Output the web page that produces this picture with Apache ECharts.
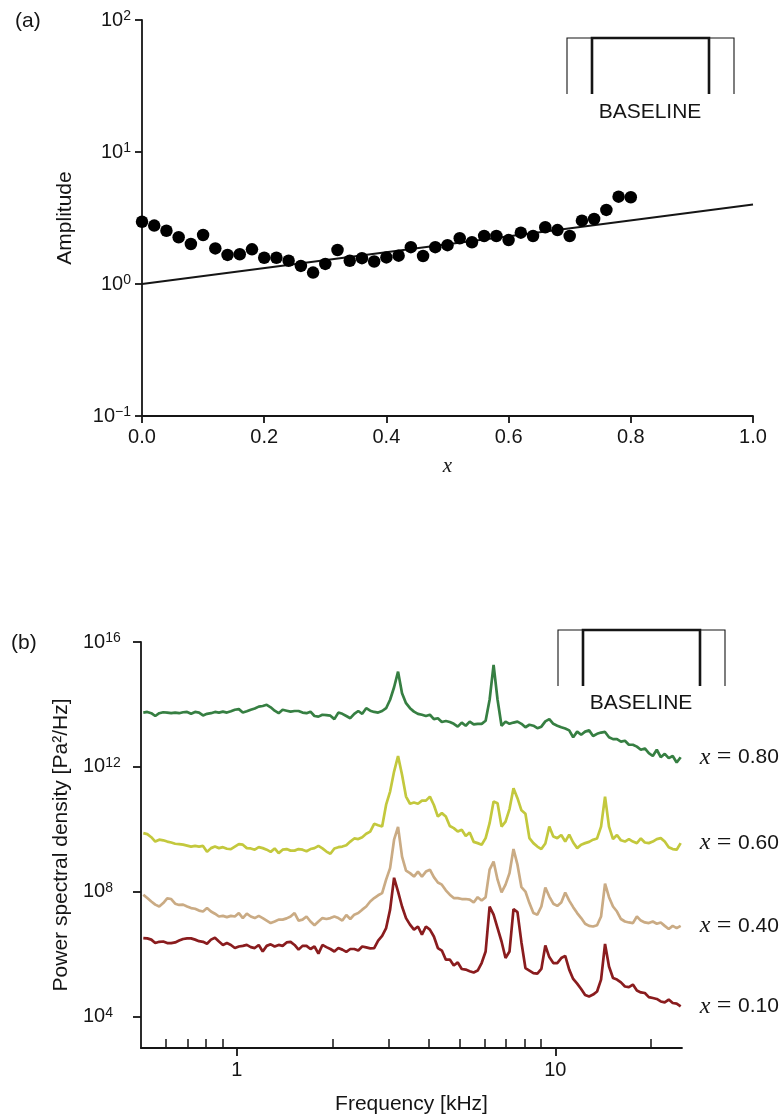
<!DOCTYPE html>
<html>
<head>
<meta charset="utf-8">
<script src="https://cdn.jsdelivr.net/npm/echarts@6/dist/echarts.min.js"></script>
<style>
html,body{margin:0;padding:0;background:#fff;}
#chart{width:784px;height:1117px;}
</style>
</head>
<body>
<div id="chart"></div>
<script>
// ---------- Panel (a): amplitude vs x ----------
const ampX = [0.00,0.02,0.04,0.06,0.08,0.10,0.12,0.14,0.16,0.18,0.20,0.22,0.24,0.26,0.28,0.30,0.32,0.34,0.36,0.38,0.40,
              0.42,0.44,0.46,0.48,0.50,0.52,0.54,0.56,0.58,0.60,0.62,0.64,0.66,0.68,0.70,0.72,0.74,0.76,0.78,0.80];
const ampY = [2.96,2.77,2.53,2.26,2.01,2.35,1.86,1.66,1.68,1.83,1.58,1.58,1.50,1.37,1.22,1.42,1.81,1.50,1.57,1.48,1.59,
              1.64,1.90,1.63,1.90,1.97,2.22,2.07,2.31,2.31,2.15,2.45,2.31,2.69,2.56,2.31,3.02,3.11,3.64,4.59,4.54];
const fitX = [0.0, 1.0];
const fitY = [1.0, 4.0];
const ampYTicks = [0.1, 1, 10, 100];

// ---------- Panel (b): power spectral density ----------
const freqKHz = [0.5084,0.5233,0.5386,0.5543,0.5705,0.5872,0.6043,0.6220,0.6401,0.6588,0.6780,0.6978,0.7182,0.7392,0.7608,0.7830,0.8059,0.8294,0.8536,0.8786,0.9042,0.9306,0.9578,0.9857,
  1.0145,1.0441,1.0746,1.1059,1.1382,1.1715,1.2057,1.2409,1.2771,1.3144,1.3528,1.3923,1.4330,1.4748,1.5179,1.5622,1.6078,1.6548,1.7031,1.7528,1.8040,1.8567,1.9109,1.9667,
  2.0241,2.0833,2.1441,2.2067,2.2711,2.3375,2.4057,2.4760,2.5483,2.6227,2.6993,2.7781,2.8592,2.9427,3.0286,3.1171,3.2081,3.3018,3.3982,3.4974,3.5995,3.7046,3.8128,3.9241,
  4.0387,4.1566,4.2780,4.4029,4.5315,4.6638,4.8000,4.9402,5.0844,5.2329,5.3857,5.5430,5.7048,5.8714,6.0429,6.2193,6.4009,6.5878,6.7802,6.9782,7.1820,7.3917,7.6075,7.8297,
  8.0583,8.2936,8.5358,8.7850,9.0416,9.3056,9.5773,9.8571,10.145,10.441,10.746,11.059,11.382,11.715,12.057,12.409,12.771,13.144,13.528,13.923,14.330,14.748,15.179,15.622,
  16.078,16.548,17.031,17.528,18.040,18.567,19.109,19.667,20.241,20.833,21.441,22.067,22.711,23.375,24.057,24.760];

// log10 of PSD [Pa^2/Hz]
const psdLog_x080 = [13.74,13.76,13.72,13.63,13.72,13.75,13.74,13.72,13.74,13.72,13.75,13.76,13.70,13.76,13.74,13.65,13.70,13.72,13.76,13.74,13.77,13.74,13.78,13.83,13.85,13.74,13.78,13.83,13.87,13.93,13.95,13.99,13.91,13.80,13.72,
  13.83,13.80,13.77,13.79,13.79,13.74,13.72,13.77,13.63,13.61,13.67,13.66,13.64,13.53,13.74,13.70,13.63,13.56,13.70,13.79,13.70,13.88,13.80,13.76,13.74,13.79,13.88,14.15,14.55,15.05,14.36,14.04,13.88,13.77,
  13.70,13.67,13.63,13.67,13.53,13.56,13.44,13.47,13.44,13.38,13.29,13.42,13.32,13.45,13.36,13.38,13.38,13.48,14.15,15.27,14.15,13.32,13.45,13.38,13.42,13.45,13.38,13.27,13.35,13.32,13.24,13.29,13.46,
  13.53,13.38,13.32,13.27,13.23,13.17,12.95,13.13,13.03,13.13,13.17,12.99,13.06,13.10,13.12,12.95,12.89,12.89,12.81,12.84,12.71,12.71,12.65,12.55,12.59,12.44,12.35,12.55,12.31,12.42,12.28,12.35,12.14,12.31];
const psdLog_x060 = [9.88,9.85,9.75,9.61,9.67,9.65,9.61,9.58,9.54,9.53,9.51,9.48,9.45,9.47,9.45,9.47,9.28,9.40,9.45,9.40,9.43,9.38,9.37,9.45,9.53,9.51,9.40,9.39,9.35,9.43,9.40,9.35,9.28,9.39,9.24,
  9.35,9.37,9.32,9.32,9.37,9.35,9.30,9.37,9.40,9.47,9.39,9.29,9.22,9.39,9.43,9.45,9.49,9.61,9.71,9.69,9.75,9.86,9.93,10.18,10.13,10.09,10.79,11.21,11.85,12.35,11.75,11.05,10.82,10.86,
  10.82,10.92,10.92,11.05,10.78,10.41,10.52,10.41,10.11,10.04,9.93,9.99,9.79,9.90,9.60,9.56,9.51,9.72,10.20,10.89,10.84,10.09,10.25,10.65,11.32,11.00,10.61,10.50,9.72,9.56,9.45,9.37,9.55,
  10.09,9.77,9.72,9.82,9.61,9.83,9.58,9.40,9.51,9.56,9.60,9.67,9.71,10.09,11.05,10.09,9.69,9.82,9.65,9.61,9.69,9.61,9.56,9.71,9.58,9.56,9.61,9.69,9.72,9.61,9.43,9.37,9.35,9.56];
const psdLog_x040 = [7.91,7.80,7.69,7.59,7.53,7.64,7.79,7.77,7.62,7.58,7.59,7.53,7.48,7.46,7.40,7.37,7.48,7.37,7.30,7.21,7.23,7.19,7.23,7.21,7.32,7.16,7.30,7.21,7.16,7.23,7.16,7.08,7.00,7.05,7.11,
  7.11,7.15,7.21,7.32,7.08,7.11,7.21,7.05,6.93,7.05,7.16,7.13,7.16,7.21,7.16,7.08,7.26,7.13,7.27,7.32,7.43,7.53,7.69,7.80,7.89,7.96,8.39,8.76,9.67,10.08,9.13,8.68,8.60,8.49,
  8.65,8.49,8.65,8.71,8.47,8.30,8.23,8.05,7.91,7.80,7.80,7.77,7.77,7.75,7.66,7.83,7.72,7.83,8.71,8.97,8.39,7.98,8.23,8.60,9.37,8.87,8.15,8.01,7.64,7.32,7.27,7.53,8.14,
  7.85,7.62,7.55,7.66,7.98,7.72,7.51,7.32,7.16,6.98,6.91,6.89,6.93,7.21,8.26,7.83,7.53,7.37,7.13,7.05,7.02,7.00,7.21,7.08,7.02,7.00,7.05,6.98,7.02,6.91,6.81,6.91,6.84,6.91];
const psdLog_x010 = [6.52,6.51,6.47,6.36,6.40,6.41,6.36,6.36,6.38,6.44,6.49,6.51,6.51,6.47,6.42,6.40,6.34,6.47,6.53,6.41,6.30,6.36,6.30,6.20,6.25,6.27,6.30,6.23,6.20,6.30,6.09,6.27,6.32,6.25,6.30,
  6.27,6.38,6.40,6.30,6.15,6.27,6.27,6.17,6.25,6.02,6.30,6.23,6.17,6.09,6.20,6.15,6.08,6.17,6.17,6.12,6.25,6.22,6.19,6.20,6.44,6.59,6.84,7.43,8.45,8.01,7.53,7.16,6.95,6.79,
  6.89,6.63,6.89,6.79,6.57,6.20,6.12,5.83,5.83,5.64,5.74,5.53,5.51,5.46,5.42,5.48,5.72,6.09,7.53,7.27,6.84,6.41,5.88,6.09,7.45,7.35,6.38,5.56,5.48,5.40,5.38,5.53,6.28,
  5.91,5.72,5.72,5.88,5.95,5.51,5.21,5.06,4.89,4.70,4.65,4.71,4.81,5.19,6.33,5.61,5.24,5.19,5.10,4.97,4.95,5.03,4.84,4.78,4.76,4.63,4.60,4.57,4.49,4.46,4.55,4.44,4.42,4.33];

const seriesLabels = ['0.80', '0.60', '0.40', '0.10'];
const seriesColors = ['#367f42', '#c3c83d', '#caab84', '#8a1c1e'];
const seriesLogs = [psdLog_x080, psdLog_x060, psdLog_x040, psdLog_x010];
const freqMajorTicks = [1, 10];
const freqMinorTicks = [0.6, 0.7, 0.8, 0.9, 2, 3, 4, 5, 6, 7, 8, 9, 20];
const psdYTicks = [1e4, 1e8, 1e12, 1e16];

// ---------- chart ----------
const SANS = '"Liberation Sans", Arial, Helvetica, sans-serif';
const SERIF = '"Liberation Serif", "DejaVu Serif", serif';
const INK = '#151515';
const axisLine = { show: true, onZero: false, lineStyle: { color: INK, width: 1.8 } };

function powLabel(v) {
  const e = Math.round(Math.log10(v));
  return '{b|10}{s|' + (e < 0 ? '\u2212' + (-e) : e) + '}';
}
const powRich = {
  b: { fontSize: 20, lineHeight: 22, fontFamily: SANS, color: INK },
  s: { fontSize: 14, lineHeight: 14, fontFamily: SANS, color: INK, verticalAlign: 'top' }
};

const psdSeries = seriesLogs.map((arr, i) => ({
  type: 'line',
  xAxisIndex: 1,
  yAxisIndex: 1,
  data: freqKHz.map((f, j) => [f, Math.pow(10, arr[j])]),
  showSymbol: false,
  symbol: 'none',
  lineStyle: { color: seriesColors[i], width: 2.7 },
  z: 3 + i,
  endLabel: {
    show: true,
    distance: 19,
    formatter: '{m|x}{e| = }{n|' + seriesLabels[i] + '}',
    rich: {
      m: { fontFamily: SERIF, fontStyle: 'italic', fontSize: 24, color: INK },
      e: { fontFamily: SERIF, fontSize: 26, color: INK },
      n: { fontFamily: SANS, fontSize: 21, color: INK }
    }
  }
}));

const option = {
  animation: false,
  backgroundColor: '#ffffff',
  grid: [
    { left: 142, top: 20, width: 611, height: 396 },
    { left: 141, top: 642, width: 541, height: 406 }
  ],
  xAxis: [
    {
      gridIndex: 0, type: 'value', min: 0, max: 1, interval: 0.2,
      axisLine: axisLine,
      axisTick: { length: 7, lineStyle: { color: INK, width: 1.8 } },
      splitLine: { show: false },
      axisLabel: { formatter: v => v.toFixed(1), fontSize: 20, fontFamily: SANS, color: INK, margin: 11 },
      name: 'x', nameLocation: 'middle', nameGap: 40,
      nameTextStyle: { fontFamily: SERIF, fontStyle: 'italic', fontSize: 21, color: INK }
    },
    {
      gridIndex: 1, type: 'log', logBase: 10, min: 0.5, max: 25, position: 'bottom',
      axisLine: axisLine,
      axisTick: { customValues: freqMajorTicks, length: 8, lineStyle: { color: INK, width: 1.8 } },
      splitLine: { show: false },
      minorTick: { show: false },
      axisLabel: { customValues: freqMajorTicks, formatter: v => String(Math.round(v)), fontSize: 20, fontFamily: SANS, color: INK, margin: 12 },
      name: 'Frequency [kHz]', nameLocation: 'middle', nameGap: 46,
      nameTextStyle: { fontFamily: SANS, fontSize: 21, color: INK }
    },
    {
      gridIndex: 1, type: 'log', logBase: 10, min: 0.5, max: 25, position: 'bottom',
      axisLine: { show: false },
      axisTick: { customValues: freqMinorTicks, inside: true, length: 9, lineStyle: { color: INK, width: 1.5 } },
      splitLine: { show: false },
      axisLabel: { show: false }
    }
  ],
  yAxis: [
    {
      gridIndex: 0, type: 'log', logBase: 10, min: 0.1, max: 100,
      axisLine: axisLine,
      axisTick: { customValues: ampYTicks, length: 7, lineStyle: { color: INK, width: 1.8 } },
      splitLine: { show: false },
      minorTick: { show: false },
      axisLabel: { customValues: ampYTicks, formatter: powLabel, rich: powRich, margin: 11 },
      name: 'Amplitude', nameLocation: 'middle', nameGap: 66, nameRotate: 90,
      nameTextStyle: { fontFamily: SANS, fontSize: 21, color: INK }
    },
    {
      gridIndex: 1, type: 'log', logBase: 10, min: 1e3, max: 1e16,
      axisLine: axisLine,
      axisTick: { customValues: psdYTicks, length: 8, lineStyle: { color: INK, width: 1.8 } },
      splitLine: { show: false },
      minorTick: { show: false },
      axisLabel: { customValues: psdYTicks, formatter: powLabel, rich: powRich, margin: 58, align: 'left' },
      name: 'Power spectral density [Pa\u00B2/Hz]', nameLocation: 'middle', nameGap: 68, nameRotate: 90,
      nameTextStyle: { fontFamily: SANS, fontSize: 21, color: INK }
    }
  ],
  series: [
    {
      type: 'line', xAxisIndex: 0, yAxisIndex: 0,
      data: fitX.map((x, i) => [x, fitY[i]]),
      showSymbol: false, symbol: 'none',
      lineStyle: { color: INK, width: 1.9 }, z: 2
    },
    {
      type: 'scatter', xAxisIndex: 0, yAxisIndex: 0,
      data: ampX.map((x, i) => [x, ampY[i]]),
      symbol: 'circle', symbolSize: 12.5,
      itemStyle: { color: '#000000', opacity: 1 }, z: 3
    }
  ].concat(psdSeries),
  graphic: [
    { type: 'text', left: 15, top: 11, style: { text: '(a)', font: '21px ' + SANS, fill: INK } },
    { type: 'text', left: 11, top: 633, style: { text: '(b)', font: '21px ' + SANS, fill: INK } },
    { type: 'polyline', shape: { points: [[567, 94], [567, 38], [734, 38], [734, 94]] }, style: { stroke: INK, lineWidth: 1.1, fill: null } },
    { type: 'polyline', shape: { points: [[592, 94], [592, 38], [709, 38], [709, 94]] }, style: { stroke: INK, lineWidth: 2.6, fill: null } },
    { type: 'text', x: 650, y: 112, style: { text: 'BASELINE', font: '21px ' + SANS, fill: INK, align: 'center', verticalAlign: 'middle' } },
    { type: 'polyline', shape: { points: [[558, 686], [558, 630], [725, 630], [725, 686]] }, style: { stroke: INK, lineWidth: 1.1, fill: null } },
    { type: 'polyline', shape: { points: [[583, 686], [583, 630], [700, 630], [700, 686]] }, style: { stroke: INK, lineWidth: 2.6, fill: null } },
    { type: 'text', x: 641, y: 703, style: { text: 'BASELINE', font: '21px ' + SANS, fill: INK, align: 'center', verticalAlign: 'middle' } }
  ]
};

const chart = echarts.init(document.getElementById('chart'), null, { renderer: 'canvas' });
chart.setOption(option);
</script>
</body>
</html>
